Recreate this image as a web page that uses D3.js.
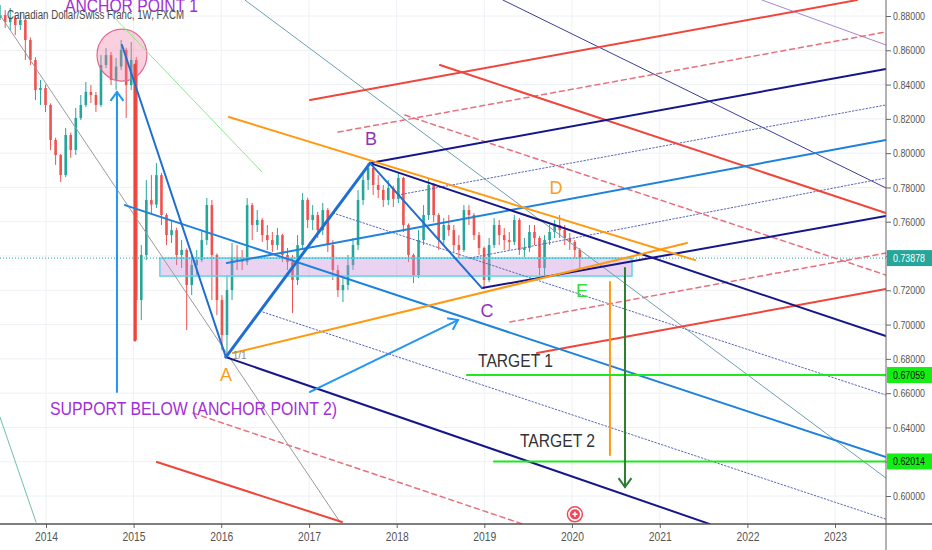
<!DOCTYPE html>
<html>
<head>
<meta charset="utf-8">
<script src="https://cdn.jsdelivr.net/npm/d3@7"></script>
<style>
  body { margin: 0; background: #fff; }
  svg { display: block; }
</style>
</head>
<body>
<div id="chart"></div>
<script>
// ---- data ----
// weekly CAD/CHF, one candle per 3 weeks
const firstCandle = new Date(2013, 5, 24);
const candleStepDays = 21;

const open = [0.8790,0.8806,0.8765,0.8788,0.8748,0.8777,0.8660,0.8543,0.8368,0.8380,
  0.8281,0.8077,0.7989,0.7872,0.8106,0.8018,0.8205,0.8281,0.8357,0.8339,
  0.8281,0.8514,0.8572,0.8427,0.8505,0.8602,0.8397,0.8543,0.7143,0.7406,
  0.7727,0.7700,0.7872,0.7639,0.7522,0.7551,0.7406,0.7435,0.7231,0.7347,
  0.7377,0.7493,0.7697,0.7406,0.7143,0.6939,0.7201,0.7394,0.7377,0.7365,
  0.7697,0.7581,0.7610,0.7522,0.7493,0.7464,0.7522,0.7406,0.7365,0.7260,
  0.7464,0.7727,0.7610,0.7639,0.7551,0.7668,0.7464,0.7318,0.7201,0.7231,
  0.7347,0.7464,0.7727,0.7843,0.7913,0.7814,0.7785,0.7727,0.7797,0.7733,
  0.7855,0.7581,0.7406,0.7289,0.7493,0.7639,0.7814,0.7639,0.7493,0.7581,
  0.7551,0.7464,0.7435,0.7668,0.7639,0.7522,0.7447,0.7260,0.7464,0.7581,
  0.7522,0.7493,0.7482,0.7610,0.7435,0.7447,0.7540,0.7505,0.7330,0.7493,
  0.7540,0.7581,0.7551,0.7505,0.7482,0.7435];
const high = [0.8864,0.8835,0.8847,0.8806,0.8823,0.8806,0.8675,0.8560,0.8427,0.8400,
  0.8290,0.8090,0.7995,0.8147,0.8120,0.8263,0.8339,0.8415,0.8397,0.8357,
  0.8572,0.8613,0.8590,0.8555,0.8660,0.8615,0.8648,0.8560,0.7464,0.7843,
  0.7872,0.7942,0.7885,0.7650,0.7610,0.7565,0.7493,0.7445,0.7406,0.7435,
  0.7551,0.7738,0.7727,0.7415,0.7172,0.7289,0.7476,0.7464,0.7435,0.7738,
  0.7710,0.7668,0.7621,0.7581,0.7540,0.7563,0.7530,0.7447,0.7406,0.7522,
  0.7767,0.7740,0.7697,0.7657,0.7709,0.7680,0.7493,0.7347,0.7271,0.7406,
  0.7505,0.7785,0.7890,0.7942,0.7931,0.7872,0.7814,0.7843,0.7810,0.7890,
  0.7862,0.7590,0.7415,0.7551,0.7697,0.7855,0.7825,0.7650,0.7621,0.7639,
  0.7581,0.7522,0.7697,0.7697,0.7650,0.7540,0.7455,0.7505,0.7621,0.7610,
  0.7563,0.7540,0.7639,0.7621,0.7505,0.7581,0.7581,0.7515,0.7522,0.7581,
  0.7610,0.7639,0.7581,0.7534,0.7493,0.7447];
const low = [0.8777,0.8730,0.8718,0.8689,0.8718,0.8543,0.8514,0.8310,0.8281,0.8240,
  0.8018,0.7931,0.7832,0.7860,0.7972,0.7989,0.8193,0.8270,0.8292,0.8240,
  0.8270,0.8497,0.8397,0.8368,0.8485,0.8205,0.8368,0.6910,0.7026,0.7377,
  0.7639,0.7680,0.7581,0.7464,0.7476,0.7347,0.7330,0.6968,0.7172,0.7289,
  0.7365,0.7464,0.7143,0.7055,0.6851,0.6811,0.7143,0.7318,0.7318,0.7347,
  0.7493,0.7540,0.7482,0.7435,0.7423,0.7435,0.7365,0.7318,0.7067,0.7231,
  0.7447,0.7563,0.7551,0.7505,0.7522,0.7423,0.7260,0.7161,0.7131,0.7201,
  0.7318,0.7435,0.7697,0.7785,0.7756,0.7738,0.7686,0.7697,0.7686,0.7709,
  0.7540,0.7365,0.7242,0.7271,0.7464,0.7610,0.7598,0.7435,0.7464,0.7517,
  0.7423,0.7388,0.7423,0.7581,0.7493,0.7406,0.7207,0.7248,0.7447,0.7464,
  0.7435,0.7435,0.7464,0.7406,0.7394,0.7423,0.7464,0.7289,0.7271,0.7464,
  0.7505,0.7505,0.7464,0.7435,0.7388,0.7330];
const close = [0.8806,0.8765,0.8788,0.8748,0.8777,0.8660,0.8543,0.8368,0.8380,0.8281,
  0.8077,0.7989,0.7872,0.8106,0.8018,0.8205,0.8281,0.8357,0.8339,0.8281,
  0.8514,0.8572,0.8427,0.8505,0.8602,0.8397,0.8543,0.7143,0.7406,0.7727,
  0.7700,0.7872,0.7639,0.7522,0.7551,0.7406,0.7435,0.7231,0.7347,0.7377,
  0.7493,0.7697,0.7406,0.7143,0.6939,0.7201,0.7394,0.7377,0.7365,0.7697,
  0.7581,0.7610,0.7522,0.7493,0.7464,0.7522,0.7406,0.7365,0.7260,0.7464,
  0.7727,0.7610,0.7639,0.7551,0.7668,0.7464,0.7318,0.7201,0.7231,0.7347,
  0.7464,0.7727,0.7843,0.7913,0.7814,0.7785,0.7727,0.7797,0.7733,0.7855,
  0.7581,0.7406,0.7289,0.7493,0.7639,0.7814,0.7639,0.7493,0.7581,0.7551,
  0.7464,0.7435,0.7668,0.7639,0.7522,0.7447,0.7260,0.7464,0.7581,0.7522,
  0.7493,0.7482,0.7610,0.7435,0.7447,0.7540,0.7505,0.7330,0.7493,0.7540,
  0.7581,0.7551,0.7505,0.7482,0.7435,0.73878];

const priceTicks = [0.60,0.62,0.64,0.66,0.68,0.70,0.72,0.74,0.76,0.78,0.80,0.82,0.84,0.86,0.88];
const yearTicks = [2014,2015,2016,2017,2018,2019,2020,2021,2022,2023];
const lastPrice = 0.73878;
const targets = [0.67059, 0.62014];

// drawings: [style, year1, price1, year2, price2]
const trendLines = [
  ["thinGray",   2013.475,0.8806, 2017.353,0.5848],
  ["thinGreen",  2014.730,0.8818, 2016.464,0.7890],
  ["thinSteel",  2016.270,0.8893, 2023.581,0.6105],
  ["thinTeal",   2013.475,0.6460, 2013.886,0.5848],
  ["thinIndigo", 2019.213,0.8893, 2023.581,0.7797],
  ["thinLilac",  2022.167,0.8893, 2023.581,0.8631],
  ["dotted",     2016.475,0.7073, 2023.581,0.5865],
  ["dotted",     2017.274,0.7651, 2023.581,0.6589],
  ["dotted",     2018.015,0.7756, 2023.581,0.8281],
  ["dotted",     2018.836,0.7388, 2023.581,0.7855],
  ["redDash",    2017.331,0.8123, 2023.581,0.8707],
  ["redDash",    2018.095,0.8222, 2023.581,0.7289],
  ["redDash",    2019.293,0.7015, 2023.581,0.7417],
  ["redDash",    2015.677,0.6484, 2019.441,0.5836],
  ["red",        2017.011,0.8310, 2023.251,0.8893],
  ["red",        2018.494,0.8514, 2023.581,0.7651],
  ["red",        2019.601,0.6834, 2023.581,0.7207],
  ["red",        2015.266,0.6198, 2017.376,0.5848],
  ["redBar",     2015.015,0.8514, 2015.015,0.6910],
  ["blue",       2014.901,0.7697, 2023.581,0.6227],
  ["blue",       2016.064,0.7359, 2023.581,0.8077],
  ["navy",       2018.973,0.7213, 2023.581,0.7633],
  ["navy",       2017.696,0.7942, 2023.581,0.8491],
  ["navy",       2017.696,0.7942, 2023.581,0.6933],
  ["navy",       2016.053,0.6810, 2021.574,0.5836],
  ["orange",     2016.087,0.8211, 2021.403,0.7376],
  ["orange",     2016.133,0.6834, 2021.311,0.7476],
  ["orange",     2020.433,0.7248, 2020.433,0.6239],
  ["wave",       2014.867,0.8631, 2016.053,0.6810],
  ["waveThick",  2016.053,0.6810, 2017.696,0.7942],
  ["wave",       2017.696,0.7942, 2018.973,0.7213],
  ["target",     2018.802,targets[0], 2023.581,targets[0]],
  ["target",     2019.110,targets[1], 2023.581,targets[1]]
];
const arrows = [
  ["skyArrow",   2014.810,0.6607, 2014.810,0.8357],
  ["skyArrow",   2017.011,0.6607, 2018.699,0.7026],
  ["greenArrow", 2020.604,0.7330, 2020.604,0.6052]
];
// support zone and anchor circle
const zone = [2015.300, 0.7388, 2020.684, 0.7283];
const anchorCircle = [2014.867, 0.8572, 0.285, 0.0152];

// labels: [style, text, year, price, width in px]
const labels = [
  ["anchor", "ANCHOR POINT 1", 2014.217, 0.8822, 133],
  ["anchor", "SUPPORT BELOW (ANCHOR POINT 2)", 2014.046, 0.6472, 287],
  ["point",  "B", 2017.707, 0.8048],
  ["point",  "C", 2019.030, 0.7044],
  ["pointO", "D", 2019.817, 0.7762],
  ["pointG", "E", 2020.114, 0.7161],
  ["pointO", "A", 2016.053, 0.6670],
  ["small",  "1/1", 2016.130, 0.6802],
  ["target", "TARGET 1", 2018.928, 0.6752, 75],
  ["target", "TARGET 2", 2019.407, 0.6285, 75]
];
const earningsIcon = [2020.034, 0.5893];

// ---- styles ----
const lineStyles = {
  thinGray:   {stroke: "#9a9a9a", width: 1},
  thinGreen:  {stroke: "#8ee68e", width: 1},
  thinSteel:  {stroke: "#6e9fb3", width: 1},
  thinTeal:   {stroke: "#6cc2a4", width: 1},
  thinIndigo: {stroke: "#3c3c9c", width: 1},
  thinLilac:  {stroke: "#a585d6", width: 1},
  dotted:     {stroke: "#5866b8", width: 1, dash: "1.5,2"},
  redDash:    {stroke: "#e8707c", width: 1.5, dash: "5,4"},
  red:        {stroke: "#f0453a", width: 2},
  redBar:     {stroke: "#f0453a", width: 3},
  blue:       {stroke: "#1e82dc", width: 2},
  navy:       {stroke: "#16168a", width: 2},
  orange:     {stroke: "#ff9a10", width: 2},
  wave:       {stroke: "#1f6fd2", width: 2},
  waveThick:  {stroke: "#1f6fd2", width: 3},
  target:     {stroke: "#1ee81e", width: 2},
  skyArrow:   {stroke: "#2196f3", width: 2},
  greenArrow: {stroke: "#2e7d32", width: 2}
};
const labelStyles = {
  anchor: {fill: "#a22fd6", size: 19},
  point:  {fill: "#8e35b5", size: 18, anchor: "middle"},
  pointO: {fill: "#f5a11f", size: 18, anchor: "middle"},
  pointG: {fill: "#33dd33", size: 18, anchor: "middle"},
  small:  {fill: "#8a8a8a", size: 10},
  target: {fill: "#333", size: 19}
};
const font = "'Liberation Sans', Arial, sans-serif";

// ---- layout ----
const W = 932, H = 550;
const plotW = 886, plotH = 524;

function fromYear(v) {
  const yr = Math.floor(v);
  const a = new Date(yr, 0, 1), b = new Date(yr + 1, 0, 1);
  return new Date(+a + (v - yr) * (b - a));
}
// squeeze text into the narrow width seen in the picture
function fit(sel, len) {
  if (len) sel.attr("textLength", len).attr("lengthAdjust", "spacingAndGlyphs");
  return sel;
}

const x = d3.scaleTime()
  .domain([new Date(2014, 0, 1), new Date(2023, 0, 1)])
  .range([46, 835]);
const y = d3.scaleLinear()
  .domain([0.60, 0.88])
  .range([496, 16]);

const svg = d3.select("#chart").append("svg")
  .attr("width", W).attr("height", H)
  .style("font-family", font);

svg.append("defs").append("clipPath").attr("id", "plot")
  .append("rect").attr("width", plotW).attr("height", plotH);

// grid
const grid = svg.append("g");
grid.selectAll(".hg").data(priceTicks).enter().append("line")
  .attr("x1", 0).attr("x2", plotW)
  .attr("y1", d => y(d)).attr("y2", d => y(d))
  .attr("stroke", "#edf0f5");
grid.selectAll(".vg").data(yearTicks).enter().append("line")
  .attr("x1", d => x(fromYear(d))).attr("x2", d => x(fromYear(d)))
  .attr("y1", 0).attr("y2", plotH)
  .attr("stroke", "#edf0f5");

const plot = svg.append("g").attr("clip-path", "url(#plot)");

// candles
const candles = close.map((c, i) => ({
  date: d3.timeDay.offset(firstCandle, i * candleStepDays),
  o: open[i], h: high[i], l: low[i], c: c
}));
const up = "#26a69a", down = "#ef5350";
const cg = plot.append("g");
cg.selectAll(".wick").data(candles).enter().append("line")
  .attr("x1", d => x(d.date)).attr("x2", d => x(d.date))
  .attr("y1", d => y(d.h)).attr("y2", d => y(d.l))
  .attr("stroke", d => d.c >= d.o ? up : down).attr("stroke-width", 1);
cg.selectAll(".body").data(candles).enter().append("rect")
  .attr("x", d => x(d.date) - 1.3).attr("width", 2.6)
  .attr("y", d => y(Math.max(d.o, d.c)))
  .attr("height", d => Math.max(1, Math.abs(y(d.o) - y(d.c))))
  .attr("fill", d => d.c >= d.o ? up : down);

// support zone
plot.append("rect")
  .attr("x", x(fromYear(zone[0]))).attr("y", y(zone[1]))
  .attr("width", x(fromYear(zone[2])) - x(fromYear(zone[0])))
  .attr("height", y(zone[3]) - y(zone[1]))
  .attr("fill", "rgba(200,140,215,0.38)")
  .attr("stroke", "#5fd3e8").attr("stroke-width", 1.5);

// anchor circle
const cx = x(fromYear(anchorCircle[0])), cy = y(anchorCircle[1]);
plot.append("ellipse")
  .attr("cx", cx).attr("cy", cy)
  .attr("rx", x(fromYear(anchorCircle[0] + anchorCircle[2])) - cx)
  .attr("ry", y(anchorCircle[1] - anchorCircle[3]) - cy)
  .attr("fill", "rgba(240,120,160,0.35)")
  .attr("stroke", "#e06a8e").attr("stroke-width", 1.2);

// last price line
plot.append("line")
  .attr("x1", 0).attr("x2", plotW)
  .attr("y1", y(lastPrice)).attr("y2", y(lastPrice))
  .attr("stroke", "#26a69a").attr("stroke-dasharray", "1,2");

// trend lines
function drawLine(g, d) {
  const s = lineStyles[d[0]];
  return g.append("line")
    .attr("x1", x(fromYear(d[1]))).attr("y1", y(d[2]))
    .attr("x2", x(fromYear(d[3]))).attr("y2", y(d[4]))
    .attr("stroke", s.stroke).attr("stroke-width", s.width)
    .attr("stroke-dasharray", s.dash || null)
    .attr("stroke-linecap", "round");
}
trendLines.forEach(d => drawLine(plot, d));

// arrows with open heads
arrows.forEach(d => {
  drawLine(plot, d);
  const s = lineStyles[d[0]];
  const x1 = x(fromYear(d[1])), y1 = y(d[2]);
  const x2 = x(fromYear(d[3])), y2 = y(d[4]);
  const ang = Math.atan2(y2 - y1, x2 - x1);
  const len = 11, spread = Math.PI / 5;
  const p = [
    [x2 - len * Math.cos(ang - spread), y2 - len * Math.sin(ang - spread)],
    [x2, y2],
    [x2 - len * Math.cos(ang + spread), y2 - len * Math.sin(ang + spread)]
  ];
  plot.append("path").attr("d", d3.line()(p))
    .attr("fill", "none").attr("stroke", s.stroke).attr("stroke-width", s.width);
});

// earnings icon
const ix = x(fromYear(earningsIcon[0])), iy = y(earningsIcon[1]);
plot.append("circle").attr("cx", ix).attr("cy", iy).attr("r", 7.5)
  .attr("fill", "#fff").attr("stroke", "#f04858").attr("stroke-width", 1.5);
plot.append("circle").attr("cx", ix).attr("cy", iy).attr("r", 5)
  .attr("fill", "#f04858");
plot.append("path")
  .attr("d", `M${ix - 2.5},${iy}H${ix + 2.5}M${ix},${iy - 2.5}V${iy + 2.5}`)
  .attr("stroke", "#fff").attr("stroke-width", 1.5);

// labels
labels.forEach(d => {
  const s = labelStyles[d[0]];
  const t = plot.append("text")
    .attr("x", x(fromYear(d[2]))).attr("y", y(d[3]))
    .attr("text-anchor", s.anchor || "start")
    .attr("fill", s.fill).attr("font-size", s.size)
    .text(d[1]);
  fit(t, d[4]);
});

// title
fit(svg.append("text").attr("x", 7).attr("y", 19)
  .attr("font-size", 12.5).attr("fill", "#4a4a4a")
  .text("Canadian Dollar/Swiss Franc, 1W, FXCM"), 177);

// axes
const yAxis = svg.append("g").attr("transform", `translate(${plotW},0)`)
  .call(d3.axisRight(y).tickValues(priceTicks).tickFormat(d3.format(".5f")).tickSize(5).tickPadding(2));
yAxis.select(".domain").remove();
yAxis.selectAll("line").attr("stroke", "#666");
yAxis.selectAll("text").attr("fill", "#555").attr("font-size", 11.5).attr("font-family", font)
  .attr("textLength", 32).attr("lengthAdjust", "spacingAndGlyphs");

const xAxis = svg.append("g").attr("transform", `translate(0,${plotH})`)
  .call(d3.axisBottom(x).tickValues(yearTicks.map(fromYear)).tickFormat(d3.timeFormat("%Y")).tickSize(4).tickPadding(4));
xAxis.select(".domain").remove();
xAxis.selectAll("line").attr("stroke", "#666");
xAxis.selectAll("text").attr("fill", "#555").attr("font-size", 12).attr("font-family", font)
  .attr("textLength", 23).attr("lengthAdjust", "spacingAndGlyphs");

svg.append("line").attr("x1", 0).attr("x2", W).attr("y1", plotH).attr("y2", plotH)
  .attr("stroke", "#555").attr("stroke-width", 1.5);
svg.append("line").attr("x1", plotW).attr("x2", plotW).attr("y1", 0).attr("y2", H)
  .attr("stroke", "#666").attr("stroke-width", 1);

// price badges on the axis
const badges = [
  {v: lastPrice, bg: "#26a69a", fg: "#fff"},
  {v: targets[0], bg: "#14ee14", fg: "#111"},
  {v: targets[1], bg: "#14ee14", fg: "#111"}
];
const bg = svg.append("g");
badges.forEach(b => {
  bg.append("rect").attr("x", plotW + 1).attr("y", y(b.v) - 8)
    .attr("width", W - plotW - 1).attr("height", 16).attr("fill", b.bg);
  fit(bg.append("text").attr("x", plotW + 7).attr("y", y(b.v) + 4)
    .attr("fill", b.fg).attr("font-size", 11.5).text(d3.format(".5f")(b.v)), 32);
});
</script>
</body>
</html>
